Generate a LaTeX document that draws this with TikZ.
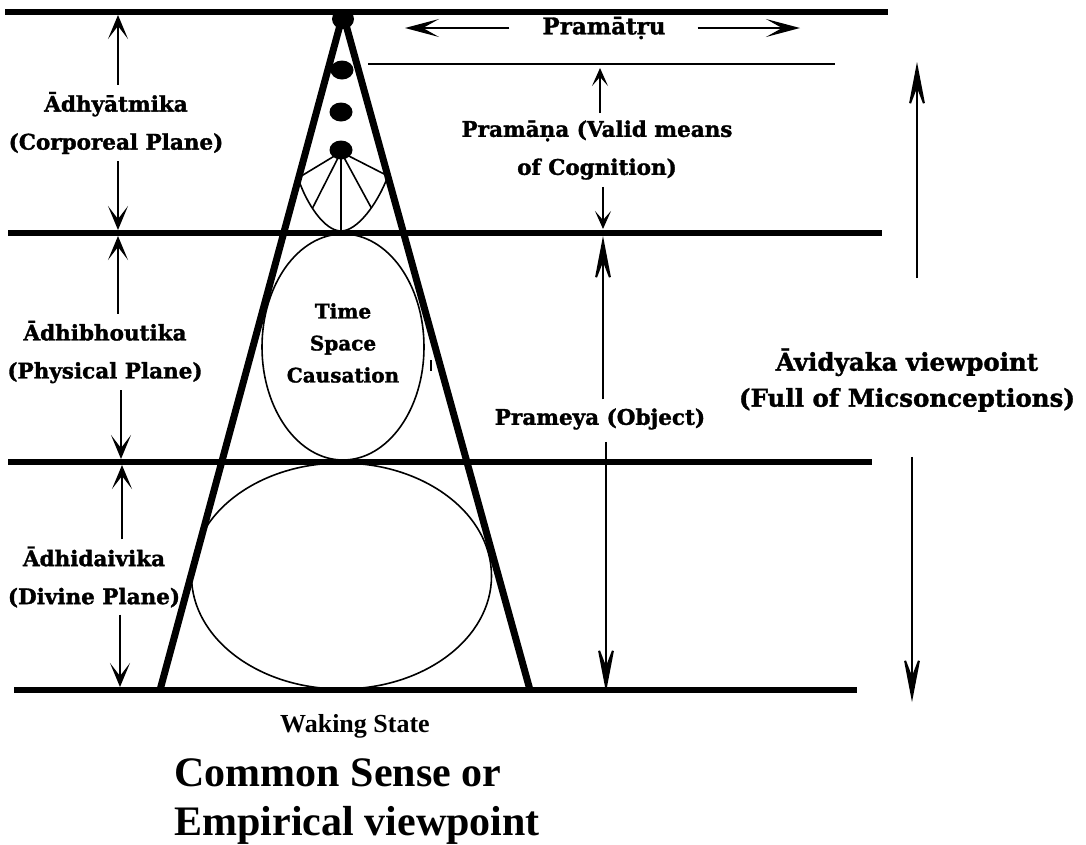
\documentclass[tikz,border=0pt]{standalone}
\usepackage{fontspec}
\setmainfont{Liberation Serif}
\newfontfamily\labelfont{DejaVu Serif}[BoldFeatures={FakeBold=1.5}]
\usetikzlibrary{arrows.meta}
\tikzset{
	>={Stealth[length=24pt,width=20pt,inset=13pt]},
	plane/.style={line width=6pt},
	cone/.style={line width=7pt, line join=round},
	fine/.style={line width=1.6pt},
	lbl/.style={font=\labelfont\bfseries\fontsize{21.5}{38}\selectfont, align=center, inner sep=0pt},
	tipS/.style={line width=2pt, ->, shorten >=3pt, shorten <=7pt},
	tipP/.style={line width=2pt, -{Stealth[length=18pt,width=16pt,inset=9pt]}, shorten >=2pt, shorten <=7pt},
	tipH/.style={line width=2pt, -{Stealth[length=34pt,width=18pt,inset=16pt]}},
	tipL/.style={line width=2pt, -{Stealth[length=52pt,width=20pt,inset=26pt]}}
}

\begin{document}
\begin{tikzpicture}[x=1pt, y=-1pt]
	%\draw[help lines] (0,0) grid[step=50] (1086,844);
	\useasboundingbox (0,0) rectangle (1086,844);

	% planes
	\foreach \n/\y/\a/\b in {1/12/5/888, 2/233/8/882, 3/462/8/872, 4/690/14/857}{
		\draw[plane] (\a,\y) coordinate (l\n) -- (\b,\y);
	}
	\draw[fine] (368,64) -- (835,64);

	% cone with the dots and the fan
	\draw[cone] (160,690) -- (343,14) -- (530,690);
	\fill (343,19) ellipse (11 and 10);
	\fill (342,70) ellipse (11.5 and 9.5);
	\fill (341,112) ellipse (11.5 and 9.5);
	\fill (341,150) ellipse (11.5 and 9.5);
	\coordinate (dot) at (341,152);
	\draw[fine] (298,178) coordinate (f1) .. controls (307,205) and (325,231) .. (341,231) coordinate[pos=0.4] (f2) coordinate (f3)
		.. controls (357,231) and (377,205) .. (388,176) coordinate[pos=0.6] (f4) coordinate (f5);
	\foreach \i in {1,...,5}{
		\draw[fine] (dot) -- (f\i);
	}

	\draw[fine] (343,347) ellipse (81 and 113);
	\draw[fine] (341.5,576) ellipse (150 and 113);
	\draw[fine] (431,360) -- (431,371);

	% left side
	\node[lbl] (adhyatmika) at (116,123) {Ādhyātmika\\(Corporeal Plane)};
	\node[lbl] (adhibhoutika) at (105,352) {Ādhibhoutika\\(Physical Plane)};
	\node[lbl] (adhidaivika) at (94,577) {Ādhidaivika\\(Divine Plane)};

	\draw[tipS] ([xshift=2pt]adhyatmika.north) -- ([xshift=2pt]adhyatmika.north |- l1);
	\draw[tipS] ([xshift=2pt]adhyatmika.south) -- ([xshift=2pt]adhyatmika.south |- l2);
	\draw[tipS] ([xshift=13pt]adhibhoutika.north) -- ([xshift=13pt]adhibhoutika.north |- l2);
	\draw[tipS] ([xshift=16pt]adhibhoutika.south) -- ([xshift=16pt]adhibhoutika.south |- l3);
	\draw[tipS] ([xshift=28pt]adhidaivika.north) -- ([xshift=28pt]adhidaivika.north |- l3);
	\draw[tipS] ([xshift=26pt]adhidaivika.south) -- ([xshift=26pt]adhidaivika.south |- l4);

	% right side
	\node[lbl, font=\labelfont\bfseries\fontsize{23}{28}\selectfont] (pramatru) at (604,28) {Pramātṛu};
	\coordinate (pl) at (405,28);
	\coordinate (pr) at (800,28);
	\draw[tipH, shorten <=33pt] (pramatru.west) -- (pl);
	\draw[tipH, shorten <=32pt] (pramatru.east) -- (pr);

	\node[lbl] (pramana) at (597,150) {Pramāṇa (Valid means\\of Cognition)};
	\coordinate (pa) at (600,66);
	\coordinate (pb) at (603,231);
	\draw[tipP] ([xshift=3pt]pramana.north) -- (pa);
	\draw[tipP] ([xshift=6pt]pramana.south) -- (pb);

	\node[lbl] (prameya) at (600,419) {Prameya (Object)};
	\coordinate (pc) at (603,236);
	\coordinate (pd) at (606,692);
	\draw[tipL, shorten <=9pt] ([xshift=3pt]prameya.north) -- (pc);
	\draw[tipL, shorten <=12pt] ([xshift=6pt]prameya.south) -- (pd);

	\node[lbl, font=\labelfont\bfseries\fontsize{24.5}{36}\selectfont] (avidyaka) at (907,380) {Āvidyaka viewpoint\\(Full of Micsonceptions)};
	\coordinate (va) at (917,62);
	\coordinate (vb) at (912,702);
	\draw[tipL, shorten <=70pt] ([xshift=10pt]avidyaka.north) -- (va);
	\draw[tipL, shorten <=45pt] ([xshift=5pt]avidyaka.south) -- (vb);

	% bottom
	\node[lbl, font=\labelfont\bfseries\fontsize{20}{32}\selectfont] (tsc) at (343,343) {Time\\Space\\Causation};
	\node[font=\bfseries\fontsize{26}{30}\selectfont] (waking) at (355,726) {Waking State};
	\node[font=\bfseries\fontsize{42}{49}\selectfont, align=left, anchor=west] (common) at (171,802) {Common Sense or\\Empirical viewpoint};

\end{tikzpicture}
\end{document}
